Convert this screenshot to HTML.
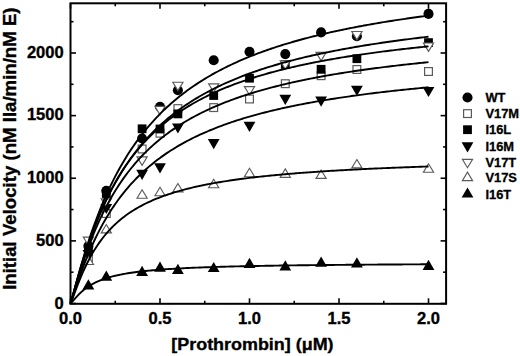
<!DOCTYPE html>
<html><head><meta charset="utf-8"><style>
html,body{margin:0;padding:0;background:#fff;}
svg{display:block;}
</style></head><body>
<svg width="520" height="356" viewBox="0 0 520 356">
<rect width="520" height="356" fill="#fff"/>
<circle cx="88.4" cy="246.0" r="5.05" fill="#000"/><circle cx="106.3" cy="190.7" r="5.05" fill="#000"/><circle cx="142.1" cy="138.5" r="5.05" fill="#000"/><circle cx="160.0" cy="106.7" r="5.05" fill="#000"/><circle cx="177.9" cy="90.3" r="5.05" fill="#000"/><circle cx="213.7" cy="60.3" r="5.05" fill="#000"/><circle cx="249.5" cy="51.7" r="5.05" fill="#000"/><circle cx="285.3" cy="54.1" r="5.05" fill="#000"/><circle cx="321.1" cy="32.4" r="5.05" fill="#000"/><circle cx="356.9" cy="36.2" r="5.05" fill="#000"/><circle cx="428.5" cy="13.9" r="5.05" fill="#000"/><rect x="84.5" y="254.1" width="7.8" height="7.8" fill="#fff" stroke="#5a5a5a" stroke-width="1.2"/><rect x="102.4" y="209.6" width="7.8" height="7.8" fill="#fff" stroke="#5a5a5a" stroke-width="1.2"/><rect x="138.2" y="145.1" width="7.8" height="7.8" fill="#fff" stroke="#5a5a5a" stroke-width="1.2"/><rect x="156.1" y="129.3" width="7.8" height="7.8" fill="#fff" stroke="#5a5a5a" stroke-width="1.2"/><rect x="174.0" y="104.7" width="7.8" height="7.8" fill="#fff" stroke="#5a5a5a" stroke-width="1.2"/><rect x="209.8" y="103.7" width="7.8" height="7.8" fill="#fff" stroke="#5a5a5a" stroke-width="1.2"/><rect x="245.6" y="95.1" width="7.8" height="7.8" fill="#fff" stroke="#5a5a5a" stroke-width="1.2"/><rect x="281.4" y="79.8" width="7.8" height="7.8" fill="#fff" stroke="#5a5a5a" stroke-width="1.2"/><rect x="317.2" y="71.8" width="7.8" height="7.8" fill="#fff" stroke="#5a5a5a" stroke-width="1.2"/><rect x="353.0" y="65.6" width="7.8" height="7.8" fill="#fff" stroke="#5a5a5a" stroke-width="1.2"/><rect x="424.6" y="67.6" width="7.8" height="7.8" fill="#fff" stroke="#5a5a5a" stroke-width="1.2"/><rect x="84.00" y="246.60" width="8.8" height="8.8" fill="#000"/><rect x="101.90" y="189.10" width="8.8" height="8.8" fill="#000"/><rect x="137.70" y="124.40" width="8.8" height="8.8" fill="#000"/><rect x="155.60" y="124.60" width="8.8" height="8.8" fill="#000"/><rect x="173.50" y="109.50" width="8.8" height="8.8" fill="#000"/><rect x="209.30" y="91.10" width="8.8" height="8.8" fill="#000"/><rect x="245.10" y="73.80" width="8.8" height="8.8" fill="#000"/><rect x="280.90" y="60.10" width="8.8" height="8.8" fill="#000"/><rect x="316.70" y="64.90" width="8.8" height="8.8" fill="#000"/><rect x="352.50" y="54.30" width="8.8" height="8.8" fill="#000"/><rect x="424.10" y="38.20" width="8.8" height="8.8" fill="#000"/><polygon points="82.50,249.90 94.30,249.90 88.40,260.10" fill="#000"/><polygon points="100.40,203.90 112.20,203.90 106.30,214.10" fill="#000"/><polygon points="136.20,169.70 148.00,169.70 142.10,179.90" fill="#000"/><polygon points="154.10,163.20 165.90,163.20 160.00,173.40" fill="#000"/><polygon points="172.00,123.40 183.80,123.40 177.90,133.60" fill="#000"/><polygon points="207.80,139.10 219.60,139.10 213.70,149.30" fill="#000"/><polygon points="243.60,121.70 255.40,121.70 249.50,131.90" fill="#000"/><polygon points="279.40,94.70 291.20,94.70 285.30,104.90" fill="#000"/><polygon points="315.20,96.60 327.00,96.60 321.10,106.80" fill="#000"/><polygon points="351.00,85.70 362.80,85.70 356.90,95.90" fill="#000"/><polygon points="422.60,86.90 434.40,86.90 428.50,97.10" fill="#000"/><polygon points="83.30,237.10 93.50,237.10 88.40,245.50" fill="#fff" stroke="#5a5a5a" stroke-width="1.15"/><polygon points="101.20,198.80 111.40,198.80 106.30,207.20" fill="#fff" stroke="#5a5a5a" stroke-width="1.15"/><polygon points="137.00,156.90 147.20,156.90 142.10,165.30" fill="#fff" stroke="#5a5a5a" stroke-width="1.15"/><polygon points="154.90,106.40 165.10,106.40 160.00,114.80" fill="#fff" stroke="#5a5a5a" stroke-width="1.15"/><polygon points="172.80,82.20 183.00,82.20 177.90,90.60" fill="#fff" stroke="#5a5a5a" stroke-width="1.15"/><polygon points="208.60,83.80 218.80,83.80 213.70,92.20" fill="#fff" stroke="#5a5a5a" stroke-width="1.15"/><polygon points="244.40,86.60 254.60,86.60 249.50,95.00" fill="#fff" stroke="#5a5a5a" stroke-width="1.15"/><polygon points="280.20,60.80 290.40,60.80 285.30,69.20" fill="#fff" stroke="#5a5a5a" stroke-width="1.15"/><polygon points="316.00,52.40 326.20,52.40 321.10,60.80" fill="#fff" stroke="#5a5a5a" stroke-width="1.15"/><polygon points="351.80,31.50 362.00,31.50 356.90,39.90" fill="#fff" stroke="#5a5a5a" stroke-width="1.15"/><polygon points="423.40,43.00 433.60,43.00 428.50,51.40" fill="#fff" stroke="#5a5a5a" stroke-width="1.15"/><polygon points="83.30,264.50 93.50,264.50 88.40,256.10" fill="#fff" stroke="#5a5a5a" stroke-width="1.15"/><polygon points="101.20,232.90 111.40,232.90 106.30,224.50" fill="#fff" stroke="#5a5a5a" stroke-width="1.15"/><polygon points="137.00,198.20 147.20,198.20 142.10,189.80" fill="#fff" stroke="#5a5a5a" stroke-width="1.15"/><polygon points="154.90,195.70 165.10,195.70 160.00,187.30" fill="#fff" stroke="#5a5a5a" stroke-width="1.15"/><polygon points="172.80,191.90 183.00,191.90 177.90,183.50" fill="#fff" stroke="#5a5a5a" stroke-width="1.15"/><polygon points="208.60,187.70 218.80,187.70 213.70,179.30" fill="#fff" stroke="#5a5a5a" stroke-width="1.15"/><polygon points="244.40,176.70 254.60,176.70 249.50,168.30" fill="#fff" stroke="#5a5a5a" stroke-width="1.15"/><polygon points="280.20,177.30 290.40,177.30 285.30,168.90" fill="#fff" stroke="#5a5a5a" stroke-width="1.15"/><polygon points="316.00,178.40 326.20,178.40 321.10,170.00" fill="#fff" stroke="#5a5a5a" stroke-width="1.15"/><polygon points="351.80,167.90 362.00,167.90 356.90,159.50" fill="#fff" stroke="#5a5a5a" stroke-width="1.15"/><polygon points="423.40,172.20 433.60,172.20 428.50,163.80" fill="#fff" stroke="#5a5a5a" stroke-width="1.15"/><polygon points="82.50,289.40 94.30,289.40 88.40,279.20" fill="#000"/><polygon points="100.40,280.80 112.20,280.80 106.30,270.60" fill="#000"/><polygon points="136.20,275.90 148.00,275.90 142.10,265.70" fill="#000"/><polygon points="154.10,271.70 165.90,271.70 160.00,261.50" fill="#000"/><polygon points="172.00,273.90 183.80,273.90 177.90,263.70" fill="#000"/><polygon points="207.80,272.10 219.60,272.10 213.70,261.90" fill="#000"/><polygon points="243.60,268.00 255.40,268.00 249.50,257.80" fill="#000"/><polygon points="279.40,270.50 291.20,270.50 285.30,260.30" fill="#000"/><polygon points="315.20,266.80 327.00,266.80 321.10,256.60" fill="#000"/><polygon points="351.00,267.40 362.80,267.40 356.90,257.20" fill="#000"/><polygon points="422.60,270.00 434.40,270.00 428.50,259.80" fill="#000"/>
<path d="M70.50,303.50 L72.29,297.36 L74.08,290.76 L75.87,284.14 L77.66,277.61 L79.45,271.22 L81.24,264.98 L83.03,258.91 L84.82,253.01 L86.61,247.29 L88.40,241.74 L90.19,236.37 L91.98,231.16 L93.77,226.11 L95.56,221.22 L97.35,216.48 L99.14,211.89 L100.93,207.44 L102.72,203.13 L104.51,198.96 L106.30,194.91 L108.09,190.98 L109.88,187.17 L111.67,183.47 L113.46,179.88 L115.25,176.39 L117.04,173.01 L118.83,169.72 L120.62,166.52 L122.41,163.42 L124.20,160.40 L125.99,157.46 L127.78,154.60 L129.57,151.82 L131.36,149.12 L133.15,146.48 L134.94,143.91 L136.73,141.41 L138.52,138.97 L140.31,136.60 L142.10,134.28 L143.89,132.02 L145.68,129.82 L147.47,127.67 L149.26,125.57 L151.05,123.52 L152.84,121.52 L154.63,119.56 L156.42,117.65 L158.21,115.79 L160.00,113.96 L161.79,112.18 L163.58,110.43 L165.37,108.73 L167.16,107.06 L168.95,105.43 L170.74,103.83 L172.53,102.26 L174.32,100.73 L176.11,99.23 L177.90,97.76 L179.69,96.33 L181.48,94.92 L183.27,93.53 L185.06,92.18 L186.85,90.85 L188.64,89.55 L190.43,88.27 L192.22,87.02 L194.01,85.79 L195.80,84.59 L197.59,83.40 L199.38,82.24 L201.17,81.10 L202.96,79.98 L204.75,78.88 L206.54,77.80 L208.33,76.74 L210.12,75.70 L211.91,74.68 L213.70,73.67 L215.49,72.69 L217.28,71.72 L219.07,70.76 L220.86,69.82 L222.65,68.90 L224.44,67.99 L226.23,67.10 L228.02,66.22 L229.81,65.36 L231.60,64.51 L233.39,63.67 L235.18,62.85 L236.97,62.03 L238.76,61.24 L240.55,60.45 L242.34,59.68 L244.13,58.92 L245.92,58.17 L247.71,57.43 L249.50,56.70 L251.29,55.98 L253.08,55.28 L254.87,54.58 L256.66,53.89 L258.45,53.22 L260.24,52.55 L262.03,51.90 L263.82,51.25 L265.61,50.61 L267.40,49.98 L269.19,49.36 L270.98,48.75 L272.77,48.14 L274.56,47.55 L276.35,46.96 L278.14,46.38 L279.93,45.81 L281.72,45.25 L283.51,44.69 L285.30,44.14 L287.09,43.60 L288.88,43.06 L290.67,42.54 L292.46,42.01 L294.25,41.50 L296.04,40.99 L297.83,40.49 L299.62,39.99 L301.41,39.50 L303.20,39.02 L304.99,38.54 L306.78,38.07 L308.57,37.61 L310.36,37.15 L312.15,36.69 L313.94,36.24 L315.73,35.80 L317.52,35.36 L319.31,34.93 L321.10,34.50 L322.89,34.07 L324.68,33.66 L326.47,33.24 L328.26,32.83 L330.05,32.43 L331.84,32.03 L333.63,31.63 L335.42,31.24 L337.21,30.86 L339.00,30.47 L340.79,30.10 L342.58,29.72 L344.37,29.35 L346.16,28.99 L347.95,28.63 L349.74,28.27 L351.53,27.91 L353.32,27.56 L355.11,27.22 L356.90,26.87 L358.69,26.54 L360.48,26.20 L362.27,25.87 L364.06,25.54 L365.85,25.21 L367.64,24.89 L369.43,24.57 L371.22,24.26 L373.01,23.94 L374.80,23.64 L376.59,23.33 L378.38,23.03 L380.17,22.73 L381.96,22.43 L383.75,22.13 L385.54,21.84 L387.33,21.55 L389.12,21.27 L390.91,20.99 L392.70,20.71 L394.49,20.43 L396.28,20.15 L398.07,19.88 L399.86,19.61 L401.65,19.34 L403.44,19.08 L405.23,18.82 L407.02,18.56 L408.81,18.30 L410.60,18.04 L412.39,17.79 L414.18,17.54 L415.97,17.29 L417.76,17.05 L419.55,16.80 L421.34,16.56 L423.13,16.32 L424.92,16.09 L426.71,15.85 L428.50,15.62" fill="none" stroke="#000" stroke-width="1.9"/><path d="M70.50,303.50 L72.29,297.69 L74.08,291.53 L75.87,285.41 L77.66,279.42 L79.45,273.59 L81.24,267.94 L83.03,262.47 L84.82,257.18 L86.61,252.08 L88.40,247.15 L90.19,242.40 L91.98,237.82 L93.77,233.39 L95.56,229.13 L97.35,225.01 L99.14,221.03 L100.93,217.19 L102.72,213.48 L104.51,209.90 L106.30,206.44 L108.09,203.09 L109.88,199.84 L111.67,196.71 L113.46,193.67 L115.25,190.73 L117.04,187.89 L118.83,185.13 L120.62,182.45 L122.41,179.85 L124.20,177.34 L125.99,174.89 L127.78,172.52 L129.57,170.21 L131.36,167.97 L133.15,165.80 L134.94,163.68 L136.73,161.62 L138.52,159.62 L140.31,157.67 L142.10,155.77 L143.89,153.93 L145.68,152.13 L147.47,150.37 L149.26,148.66 L151.05,147.00 L152.84,145.37 L154.63,143.79 L156.42,142.24 L158.21,140.73 L160.00,139.26 L161.79,137.82 L163.58,136.41 L165.37,135.04 L167.16,133.70 L168.95,132.38 L170.74,131.10 L172.53,129.85 L174.32,128.62 L176.11,127.42 L177.90,126.25 L179.69,125.10 L181.48,123.97 L183.27,122.87 L185.06,121.79 L186.85,120.73 L188.64,119.70 L190.43,118.68 L192.22,117.69 L194.01,116.71 L195.80,115.76 L197.59,114.82 L199.38,113.90 L201.17,113.00 L202.96,112.11 L204.75,111.25 L206.54,110.39 L208.33,109.56 L210.12,108.74 L211.91,107.93 L213.70,107.14 L215.49,106.36 L217.28,105.60 L219.07,104.84 L220.86,104.11 L222.65,103.38 L224.44,102.67 L226.23,101.97 L228.02,101.28 L229.81,100.60 L231.60,99.94 L233.39,99.28 L235.18,98.64 L236.97,98.00 L238.76,97.38 L240.55,96.76 L242.34,96.16 L244.13,95.57 L245.92,94.98 L247.71,94.40 L249.50,93.84 L251.29,93.28 L253.08,92.73 L254.87,92.18 L256.66,91.65 L258.45,91.12 L260.24,90.61 L262.03,90.10 L263.82,89.59 L265.61,89.10 L267.40,88.61 L269.19,88.13 L270.98,87.65 L272.77,87.18 L274.56,86.72 L276.35,86.26 L278.14,85.82 L279.93,85.37 L281.72,84.94 L283.51,84.50 L285.30,84.08 L287.09,83.66 L288.88,83.25 L290.67,82.84 L292.46,82.43 L294.25,82.04 L296.04,81.64 L297.83,81.25 L299.62,80.87 L301.41,80.49 L303.20,80.12 L304.99,79.75 L306.78,79.39 L308.57,79.03 L310.36,78.67 L312.15,78.32 L313.94,77.98 L315.73,77.63 L317.52,77.30 L319.31,76.96 L321.10,76.63 L322.89,76.31 L324.68,75.98 L326.47,75.67 L328.26,75.35 L330.05,75.04 L331.84,74.73 L333.63,74.43 L335.42,74.13 L337.21,73.83 L339.00,73.54 L340.79,73.25 L342.58,72.96 L344.37,72.68 L346.16,72.40 L347.95,72.12 L349.74,71.84 L351.53,71.57 L353.32,71.30 L355.11,71.04 L356.90,70.77 L358.69,70.51 L360.48,70.26 L362.27,70.00 L364.06,69.75 L365.85,69.50 L367.64,69.25 L369.43,69.01 L371.22,68.77 L373.01,68.53 L374.80,68.29 L376.59,68.06 L378.38,67.82 L380.17,67.59 L381.96,67.37 L383.75,67.14 L385.54,66.92 L387.33,66.70 L389.12,66.48 L390.91,66.26 L392.70,66.05 L394.49,65.84 L396.28,65.63 L398.07,65.42 L399.86,65.21 L401.65,65.01 L403.44,64.81 L405.23,64.61 L407.02,64.41 L408.81,64.21 L410.60,64.02 L412.39,63.82 L414.18,63.63 L415.97,63.44 L417.76,63.25 L419.55,63.07 L421.34,62.88 L423.13,62.70 L424.92,62.52 L426.71,62.34 L428.50,62.16" fill="none" stroke="#000" stroke-width="1.9"/><path d="M70.50,303.50 L72.29,297.50 L74.08,291.10 L75.87,284.71 L77.66,278.42 L79.45,272.28 L81.24,266.31 L83.03,260.51 L84.82,254.89 L86.61,249.44 L88.40,244.17 L90.19,239.08 L91.98,234.15 L93.77,229.39 L95.56,224.78 L97.35,220.32 L99.14,216.00 L100.93,211.83 L102.72,207.79 L104.51,203.88 L106.30,200.10 L108.09,196.43 L109.88,192.87 L111.67,189.43 L113.46,186.09 L115.25,182.85 L117.04,179.71 L118.83,176.66 L120.62,173.70 L122.41,170.82 L124.20,168.03 L125.99,165.32 L127.78,162.68 L129.57,160.11 L131.36,157.62 L133.15,155.19 L134.94,152.83 L136.73,150.52 L138.52,148.28 L140.31,146.10 L142.10,143.97 L143.89,141.90 L145.68,139.88 L147.47,137.91 L149.26,135.99 L151.05,134.11 L152.84,132.28 L154.63,130.49 L156.42,128.75 L158.21,127.04 L160.00,125.38 L161.79,123.75 L163.58,122.16 L165.37,120.60 L167.16,119.08 L168.95,117.60 L170.74,116.14 L172.53,114.72 L174.32,113.33 L176.11,111.96 L177.90,110.63 L179.69,109.32 L181.48,108.04 L183.27,106.78 L185.06,105.55 L186.85,104.35 L188.64,103.17 L190.43,102.01 L192.22,100.88 L194.01,99.76 L195.80,98.67 L197.59,97.60 L199.38,96.55 L201.17,95.52 L202.96,94.50 L204.75,93.51 L206.54,92.53 L208.33,91.58 L210.12,90.63 L211.91,89.71 L213.70,88.80 L215.49,87.91 L217.28,87.03 L219.07,86.17 L220.86,85.32 L222.65,84.49 L224.44,83.67 L226.23,82.87 L228.02,82.07 L229.81,81.29 L231.60,80.53 L233.39,79.77 L235.18,79.03 L236.97,78.30 L238.76,77.58 L240.55,76.88 L242.34,76.18 L244.13,75.49 L245.92,74.82 L247.71,74.15 L249.50,73.50 L251.29,72.85 L253.08,72.22 L254.87,71.59 L256.66,70.98 L258.45,70.37 L260.24,69.77 L262.03,69.18 L263.82,68.60 L265.61,68.02 L267.40,67.46 L269.19,66.90 L270.98,66.35 L272.77,65.81 L274.56,65.28 L276.35,64.75 L278.14,64.23 L279.93,63.71 L281.72,63.21 L283.51,62.71 L285.30,62.22 L287.09,61.73 L288.88,61.25 L290.67,60.78 L292.46,60.31 L294.25,59.85 L296.04,59.39 L297.83,58.94 L299.62,58.50 L301.41,58.06 L303.20,57.63 L304.99,57.20 L306.78,56.78 L308.57,56.36 L310.36,55.95 L312.15,55.54 L313.94,55.14 L315.73,54.74 L317.52,54.35 L319.31,53.96 L321.10,53.58 L322.89,53.20 L324.68,52.82 L326.47,52.45 L328.26,52.09 L330.05,51.72 L331.84,51.37 L333.63,51.01 L335.42,50.66 L337.21,50.32 L339.00,49.98 L340.79,49.64 L342.58,49.30 L344.37,48.97 L346.16,48.65 L347.95,48.32 L349.74,48.00 L351.53,47.69 L353.32,47.37 L355.11,47.06 L356.90,46.76 L358.69,46.45 L360.48,46.15 L362.27,45.86 L364.06,45.56 L365.85,45.27 L367.64,44.98 L369.43,44.70 L371.22,44.42 L373.01,44.14 L374.80,43.86 L376.59,43.59 L378.38,43.32 L380.17,43.05 L381.96,42.79 L383.75,42.52 L385.54,42.26 L387.33,42.00 L389.12,41.75 L390.91,41.50 L392.70,41.25 L394.49,41.00 L396.28,40.75 L398.07,40.51 L399.86,40.27 L401.65,40.03 L403.44,39.80 L405.23,39.56 L407.02,39.33 L408.81,39.10 L410.60,38.87 L412.39,38.65 L414.18,38.42 L415.97,38.20 L417.76,37.98 L419.55,37.76 L421.34,37.55 L423.13,37.34 L424.92,37.12 L426.71,36.91 L428.50,36.71" fill="none" stroke="#000" stroke-width="1.9"/><path d="M70.50,303.50 L72.29,298.30 L74.08,292.86 L75.87,287.47 L77.66,282.20 L79.45,277.07 L81.24,272.11 L83.03,267.30 L84.82,262.66 L86.61,258.17 L88.40,253.84 L90.19,249.66 L91.98,245.63 L93.77,241.73 L95.56,237.97 L97.35,234.34 L99.14,230.83 L100.93,227.44 L102.72,224.16 L104.51,221.00 L106.30,217.93 L108.09,214.96 L109.88,212.09 L111.67,209.31 L113.46,206.61 L115.25,204.00 L117.04,201.47 L118.83,199.02 L120.62,196.63 L122.41,194.32 L124.20,192.08 L125.99,189.90 L127.78,187.78 L129.57,185.72 L131.36,183.72 L133.15,181.77 L134.94,179.88 L136.73,178.03 L138.52,176.24 L140.31,174.49 L142.10,172.79 L143.89,171.13 L145.68,169.52 L147.47,167.94 L149.26,166.40 L151.05,164.91 L152.84,163.44 L154.63,162.02 L156.42,160.62 L158.21,159.26 L160.00,157.93 L161.79,156.63 L163.58,155.36 L165.37,154.12 L167.16,152.91 L168.95,151.72 L170.74,150.56 L172.53,149.43 L174.32,148.32 L176.11,147.23 L177.90,146.17 L179.69,145.13 L181.48,144.11 L183.27,143.11 L185.06,142.13 L186.85,141.17 L188.64,140.23 L190.43,139.30 L192.22,138.40 L194.01,137.51 L195.80,136.64 L197.59,135.79 L199.38,134.95 L201.17,134.13 L202.96,133.33 L204.75,132.54 L206.54,131.76 L208.33,131.00 L210.12,130.25 L211.91,129.51 L213.70,128.79 L215.49,128.08 L217.28,127.38 L219.07,126.69 L220.86,126.02 L222.65,125.36 L224.44,124.70 L226.23,124.06 L228.02,123.43 L229.81,122.81 L231.60,122.20 L233.39,121.60 L235.18,121.01 L236.97,120.43 L238.76,119.86 L240.55,119.30 L242.34,118.74 L244.13,118.20 L245.92,117.66 L247.71,117.13 L249.50,116.61 L251.29,116.10 L253.08,115.59 L254.87,115.09 L256.66,114.60 L258.45,114.12 L260.24,113.64 L262.03,113.17 L263.82,112.71 L265.61,112.26 L267.40,111.81 L269.19,111.36 L270.98,110.92 L272.77,110.49 L274.56,110.07 L276.35,109.65 L278.14,109.23 L279.93,108.83 L281.72,108.42 L283.51,108.03 L285.30,107.63 L287.09,107.25 L288.88,106.86 L290.67,106.49 L292.46,106.12 L294.25,105.75 L296.04,105.39 L297.83,105.03 L299.62,104.67 L301.41,104.32 L303.20,103.98 L304.99,103.64 L306.78,103.30 L308.57,102.97 L310.36,102.64 L312.15,102.32 L313.94,102.00 L315.73,101.68 L317.52,101.37 L319.31,101.06 L321.10,100.76 L322.89,100.45 L324.68,100.15 L326.47,99.86 L328.26,99.57 L330.05,99.28 L331.84,99.00 L333.63,98.71 L335.42,98.44 L337.21,98.16 L339.00,97.89 L340.79,97.62 L342.58,97.35 L344.37,97.09 L346.16,96.83 L347.95,96.57 L349.74,96.32 L351.53,96.06 L353.32,95.81 L355.11,95.57 L356.90,95.32 L358.69,95.08 L360.48,94.84 L362.27,94.61 L364.06,94.37 L365.85,94.14 L367.64,93.91 L369.43,93.68 L371.22,93.46 L373.01,93.24 L374.80,93.02 L376.59,92.80 L378.38,92.58 L380.17,92.37 L381.96,92.16 L383.75,91.95 L385.54,91.74 L387.33,91.54 L389.12,91.33 L390.91,91.13 L392.70,90.93 L394.49,90.73 L396.28,90.54 L398.07,90.35 L399.86,90.15 L401.65,89.96 L403.44,89.77 L405.23,89.59 L407.02,89.40 L408.81,89.22 L410.60,89.04 L412.39,88.86 L414.18,88.68 L415.97,88.50 L417.76,88.33 L419.55,88.15 L421.34,87.98 L423.13,87.81 L424.92,87.64 L426.71,87.48 L428.50,87.31" fill="none" stroke="#000" stroke-width="1.9"/><path d="M70.50,303.50 L72.29,297.66 L74.08,291.25 L75.87,284.81 L77.66,278.44 L79.45,272.21 L81.24,266.14 L83.03,260.25 L84.82,254.55 L86.61,249.03 L88.40,243.69 L90.19,238.54 L91.98,233.57 L93.77,228.76 L95.56,224.13 L97.35,219.65 L99.14,215.33 L100.93,211.15 L102.72,207.12 L104.51,203.23 L106.30,199.46 L108.09,195.82 L109.88,192.30 L111.67,188.90 L113.46,185.61 L115.25,182.42 L117.04,179.33 L118.83,176.34 L120.62,173.44 L122.41,170.63 L124.20,167.91 L125.99,165.26 L127.78,162.70 L129.57,160.21 L131.36,157.79 L133.15,155.45 L134.94,153.17 L136.73,150.95 L138.52,148.79 L140.31,146.70 L142.10,144.66 L143.89,142.67 L145.68,140.74 L147.47,138.86 L149.26,137.02 L151.05,135.24 L152.84,133.49 L154.63,131.80 L156.42,130.14 L158.21,128.53 L160.00,126.95 L161.79,125.42 L163.58,123.92 L165.37,122.45 L167.16,121.02 L168.95,119.62 L170.74,118.26 L172.53,116.92 L174.32,115.62 L176.11,114.34 L177.90,113.09 L179.69,111.87 L181.48,110.68 L183.27,109.51 L185.06,108.37 L186.85,107.25 L188.64,106.15 L190.43,105.08 L192.22,104.02 L194.01,102.99 L195.80,101.98 L197.59,100.99 L199.38,100.02 L201.17,99.07 L202.96,98.14 L204.75,97.22 L206.54,96.32 L208.33,95.44 L210.12,94.58 L211.91,93.73 L213.70,92.90 L215.49,92.08 L217.28,91.28 L219.07,90.49 L220.86,89.71 L222.65,88.95 L224.44,88.21 L226.23,87.47 L228.02,86.75 L229.81,86.04 L231.60,85.34 L233.39,84.66 L235.18,83.98 L236.97,83.32 L238.76,82.67 L240.55,82.03 L242.34,81.40 L244.13,80.78 L245.92,80.16 L247.71,79.56 L249.50,78.97 L251.29,78.39 L253.08,77.82 L254.87,77.25 L256.66,76.70 L258.45,76.15 L260.24,75.61 L262.03,75.08 L263.82,74.56 L265.61,74.04 L267.40,73.53 L269.19,73.03 L270.98,72.54 L272.77,72.05 L274.56,71.57 L276.35,71.10 L278.14,70.64 L279.93,70.18 L281.72,69.72 L283.51,69.28 L285.30,68.84 L287.09,68.40 L288.88,67.97 L290.67,67.55 L292.46,67.14 L294.25,66.72 L296.04,66.32 L297.83,65.92 L299.62,65.52 L301.41,65.13 L303.20,64.75 L304.99,64.37 L306.78,63.99 L308.57,63.62 L310.36,63.26 L312.15,62.89 L313.94,62.54 L315.73,62.19 L317.52,61.84 L319.31,61.49 L321.10,61.15 L322.89,60.82 L324.68,60.49 L326.47,60.16 L328.26,59.84 L330.05,59.52 L331.84,59.20 L333.63,58.89 L335.42,58.58 L337.21,58.28 L339.00,57.98 L340.79,57.68 L342.58,57.38 L344.37,57.09 L346.16,56.80 L347.95,56.52 L349.74,56.24 L351.53,55.96 L353.32,55.69 L355.11,55.41 L356.90,55.14 L358.69,54.88 L360.48,54.61 L362.27,54.35 L364.06,54.10 L365.85,53.84 L367.64,53.59 L369.43,53.34 L371.22,53.09 L373.01,52.85 L374.80,52.61 L376.59,52.37 L378.38,52.13 L380.17,51.90 L381.96,51.66 L383.75,51.43 L385.54,51.21 L387.33,50.98 L389.12,50.76 L390.91,50.54 L392.70,50.32 L394.49,50.11 L396.28,49.89 L398.07,49.68 L399.86,49.47 L401.65,49.26 L403.44,49.06 L405.23,48.85 L407.02,48.65 L408.81,48.45 L410.60,48.25 L412.39,48.06 L414.18,47.86 L415.97,47.67 L417.76,47.48 L419.55,47.29 L421.34,47.10 L423.13,46.92 L424.92,46.73 L426.71,46.55 L428.50,46.37" fill="none" stroke="#000" stroke-width="1.9"/><path d="M70.50,303.50 L72.29,299.22 L74.08,294.42 L75.87,289.61 L77.66,284.91 L79.45,280.38 L81.24,276.05 L83.03,271.92 L84.82,267.99 L86.61,264.25 L88.40,260.70 L90.19,257.33 L91.98,254.13 L93.77,251.09 L95.56,248.21 L97.35,245.47 L99.14,242.86 L100.93,240.38 L102.72,238.01 L104.51,235.76 L106.30,233.61 L108.09,231.56 L109.88,229.61 L111.67,227.74 L113.46,225.95 L115.25,224.23 L117.04,222.59 L118.83,221.02 L120.62,219.51 L122.41,218.07 L124.20,216.68 L125.99,215.34 L127.78,214.06 L129.57,212.82 L131.36,211.63 L133.15,210.49 L134.94,209.38 L136.73,208.32 L138.52,207.29 L140.31,206.30 L142.10,205.34 L143.89,204.42 L145.68,203.52 L147.47,202.66 L149.26,201.82 L151.05,201.01 L152.84,200.22 L154.63,199.46 L156.42,198.72 L158.21,198.01 L160.00,197.31 L161.79,196.64 L163.58,195.98 L165.37,195.35 L167.16,194.73 L168.95,194.13 L170.74,193.54 L172.53,192.98 L174.32,192.42 L176.11,191.88 L177.90,191.36 L179.69,190.85 L181.48,190.35 L183.27,189.87 L185.06,189.40 L186.85,188.94 L188.64,188.49 L190.43,188.05 L192.22,187.62 L194.01,187.20 L195.80,186.80 L197.59,186.40 L199.38,186.01 L201.17,185.63 L202.96,185.26 L204.75,184.89 L206.54,184.54 L208.33,184.19 L210.12,183.85 L211.91,183.52 L213.70,183.19 L215.49,182.88 L217.28,182.56 L219.07,182.26 L220.86,181.96 L222.65,181.67 L224.44,181.38 L226.23,181.10 L228.02,180.82 L229.81,180.55 L231.60,180.29 L233.39,180.03 L235.18,179.77 L236.97,179.52 L238.76,179.28 L240.55,179.03 L242.34,178.80 L244.13,178.57 L245.92,178.34 L247.71,178.11 L249.50,177.89 L251.29,177.68 L253.08,177.47 L254.87,177.26 L256.66,177.05 L258.45,176.85 L260.24,176.65 L262.03,176.46 L263.82,176.27 L265.61,176.08 L267.40,175.90 L269.19,175.71 L270.98,175.53 L272.77,175.36 L274.56,175.18 L276.35,175.01 L278.14,174.85 L279.93,174.68 L281.72,174.52 L283.51,174.36 L285.30,174.20 L287.09,174.05 L288.88,173.89 L290.67,173.74 L292.46,173.59 L294.25,173.45 L296.04,173.30 L297.83,173.16 L299.62,173.02 L301.41,172.88 L303.20,172.75 L304.99,172.62 L306.78,172.48 L308.57,172.35 L310.36,172.22 L312.15,172.10 L313.94,171.97 L315.73,171.85 L317.52,171.73 L319.31,171.61 L321.10,171.49 L322.89,171.38 L324.68,171.26 L326.47,171.15 L328.26,171.03 L330.05,170.92 L331.84,170.82 L333.63,170.71 L335.42,170.60 L337.21,170.50 L339.00,170.39 L340.79,170.29 L342.58,170.19 L344.37,170.09 L346.16,169.99 L347.95,169.89 L349.74,169.80 L351.53,169.70 L353.32,169.61 L355.11,169.52 L356.90,169.43 L358.69,169.33 L360.48,169.25 L362.27,169.16 L364.06,169.07 L365.85,168.98 L367.64,168.90 L369.43,168.81 L371.22,168.73 L373.01,168.65 L374.80,168.57 L376.59,168.49 L378.38,168.41 L380.17,168.33 L381.96,168.25 L383.75,168.17 L385.54,168.10 L387.33,168.02 L389.12,167.95 L390.91,167.87 L392.70,167.80 L394.49,167.73 L396.28,167.66 L398.07,167.59 L399.86,167.52 L401.65,167.45 L403.44,167.38 L405.23,167.31 L407.02,167.25 L408.81,167.18 L410.60,167.11 L412.39,167.05 L414.18,166.98 L415.97,166.92 L417.76,166.86 L419.55,166.80 L421.34,166.73 L423.13,166.67 L424.92,166.61 L426.71,166.55 L428.50,166.49" fill="none" stroke="#000" stroke-width="1.9"/><path d="M70.50,303.50 L72.29,301.71 L74.08,299.62 L75.87,297.57 L77.66,295.61 L79.45,293.78 L81.24,292.08 L83.03,290.51 L84.82,289.06 L86.61,287.73 L88.40,286.50 L90.19,285.36 L91.98,284.31 L93.77,283.34 L95.56,282.44 L97.35,281.61 L99.14,280.83 L100.93,280.11 L102.72,279.43 L104.51,278.80 L106.30,278.21 L108.09,277.66 L109.88,277.14 L111.67,276.65 L113.46,276.19 L115.25,275.75 L117.04,275.34 L118.83,274.95 L120.62,274.59 L122.41,274.24 L124.20,273.91 L125.99,273.59 L127.78,273.29 L129.57,273.01 L131.36,272.74 L133.15,272.48 L134.94,272.23 L136.73,272.00 L138.52,271.77 L140.31,271.56 L142.10,271.35 L143.89,271.15 L145.68,270.96 L147.47,270.78 L149.26,270.60 L151.05,270.44 L152.84,270.27 L154.63,270.12 L156.42,269.97 L158.21,269.82 L160.00,269.68 L161.79,269.55 L163.58,269.42 L165.37,269.29 L167.16,269.17 L168.95,269.05 L170.74,268.94 L172.53,268.83 L174.32,268.72 L176.11,268.62 L177.90,268.52 L179.69,268.42 L181.48,268.33 L183.27,268.24 L185.06,268.15 L186.85,268.06 L188.64,267.98 L190.43,267.90 L192.22,267.82 L194.01,267.74 L195.80,267.67 L197.59,267.59 L199.38,267.52 L201.17,267.45 L202.96,267.39 L204.75,267.32 L206.54,267.26 L208.33,267.20 L210.12,267.13 L211.91,267.08 L213.70,267.02 L215.49,266.96 L217.28,266.91 L219.07,266.85 L220.86,266.80 L222.65,266.75 L224.44,266.70 L226.23,266.65 L228.02,266.60 L229.81,266.56 L231.60,266.51 L233.39,266.47 L235.18,266.42 L236.97,266.38 L238.76,266.34 L240.55,266.30 L242.34,266.26 L244.13,266.22 L245.92,266.18 L247.71,266.14 L249.50,266.10 L251.29,266.07 L253.08,266.03 L254.87,266.00 L256.66,265.96 L258.45,265.93 L260.24,265.89 L262.03,265.86 L263.82,265.83 L265.61,265.80 L267.40,265.77 L269.19,265.74 L270.98,265.71 L272.77,265.68 L274.56,265.65 L276.35,265.62 L278.14,265.60 L279.93,265.57 L281.72,265.54 L283.51,265.52 L285.30,265.49 L287.09,265.47 L288.88,265.44 L290.67,265.42 L292.46,265.39 L294.25,265.37 L296.04,265.35 L297.83,265.32 L299.62,265.30 L301.41,265.28 L303.20,265.26 L304.99,265.23 L306.78,265.21 L308.57,265.19 L310.36,265.17 L312.15,265.15 L313.94,265.13 L315.73,265.11 L317.52,265.09 L319.31,265.07 L321.10,265.06 L322.89,265.04 L324.68,265.02 L326.47,265.00 L328.26,264.98 L330.05,264.97 L331.84,264.95 L333.63,264.93 L335.42,264.92 L337.21,264.90 L339.00,264.88 L340.79,264.87 L342.58,264.85 L344.37,264.84 L346.16,264.82 L347.95,264.80 L349.74,264.79 L351.53,264.77 L353.32,264.76 L355.11,264.75 L356.90,264.73 L358.69,264.72 L360.48,264.70 L362.27,264.69 L364.06,264.68 L365.85,264.66 L367.64,264.65 L369.43,264.64 L371.22,264.62 L373.01,264.61 L374.80,264.60 L376.59,264.59 L378.38,264.57 L380.17,264.56 L381.96,264.55 L383.75,264.54 L385.54,264.53 L387.33,264.52 L389.12,264.50 L390.91,264.49 L392.70,264.48 L394.49,264.47 L396.28,264.46 L398.07,264.45 L399.86,264.44 L401.65,264.43 L403.44,264.42 L405.23,264.41 L407.02,264.40 L408.81,264.39 L410.60,264.38 L412.39,264.37 L414.18,264.36 L415.97,264.35 L417.76,264.34 L419.55,264.33 L421.34,264.32 L423.13,264.31 L424.92,264.30 L426.71,264.29 L428.50,264.29" fill="none" stroke="#000" stroke-width="1.9"/>
<rect x="70.5" y="3.3" width="375.6" height="300.5" fill="none" stroke="#000" stroke-width="2"/><line x1="70.50" y1="303.8" x2="70.50" y2="298.3" stroke="#000" stroke-width="1.6"/><line x1="70.50" y1="3.3" x2="70.50" y2="8.8" stroke="#000" stroke-width="1.6"/><line x1="115.25" y1="303.8" x2="115.25" y2="300.8" stroke="#000" stroke-width="1.6"/><line x1="115.25" y1="3.3" x2="115.25" y2="6.3" stroke="#000" stroke-width="1.6"/><line x1="160.00" y1="303.8" x2="160.00" y2="298.3" stroke="#000" stroke-width="1.6"/><line x1="160.00" y1="3.3" x2="160.00" y2="8.8" stroke="#000" stroke-width="1.6"/><line x1="204.75" y1="303.8" x2="204.75" y2="300.8" stroke="#000" stroke-width="1.6"/><line x1="204.75" y1="3.3" x2="204.75" y2="6.3" stroke="#000" stroke-width="1.6"/><line x1="249.50" y1="303.8" x2="249.50" y2="298.3" stroke="#000" stroke-width="1.6"/><line x1="249.50" y1="3.3" x2="249.50" y2="8.8" stroke="#000" stroke-width="1.6"/><line x1="294.25" y1="303.8" x2="294.25" y2="300.8" stroke="#000" stroke-width="1.6"/><line x1="294.25" y1="3.3" x2="294.25" y2="6.3" stroke="#000" stroke-width="1.6"/><line x1="339.00" y1="303.8" x2="339.00" y2="298.3" stroke="#000" stroke-width="1.6"/><line x1="339.00" y1="3.3" x2="339.00" y2="8.8" stroke="#000" stroke-width="1.6"/><line x1="383.75" y1="303.8" x2="383.75" y2="300.8" stroke="#000" stroke-width="1.6"/><line x1="383.75" y1="3.3" x2="383.75" y2="6.3" stroke="#000" stroke-width="1.6"/><line x1="428.50" y1="303.8" x2="428.50" y2="298.3" stroke="#000" stroke-width="1.6"/><line x1="428.50" y1="3.3" x2="428.50" y2="8.8" stroke="#000" stroke-width="1.6"/><line x1="70.5" y1="303.50" x2="76.0" y2="303.50" stroke="#000" stroke-width="1.6"/><line x1="446.1" y1="303.50" x2="440.6" y2="303.50" stroke="#000" stroke-width="1.6"/><line x1="70.5" y1="272.19" x2="73.5" y2="272.19" stroke="#000" stroke-width="1.6"/><line x1="446.1" y1="272.19" x2="443.1" y2="272.19" stroke="#000" stroke-width="1.6"/><line x1="70.5" y1="240.88" x2="76.0" y2="240.88" stroke="#000" stroke-width="1.6"/><line x1="446.1" y1="240.88" x2="440.6" y2="240.88" stroke="#000" stroke-width="1.6"/><line x1="70.5" y1="209.56" x2="73.5" y2="209.56" stroke="#000" stroke-width="1.6"/><line x1="446.1" y1="209.56" x2="443.1" y2="209.56" stroke="#000" stroke-width="1.6"/><line x1="70.5" y1="178.25" x2="76.0" y2="178.25" stroke="#000" stroke-width="1.6"/><line x1="446.1" y1="178.25" x2="440.6" y2="178.25" stroke="#000" stroke-width="1.6"/><line x1="70.5" y1="146.94" x2="73.5" y2="146.94" stroke="#000" stroke-width="1.6"/><line x1="446.1" y1="146.94" x2="443.1" y2="146.94" stroke="#000" stroke-width="1.6"/><line x1="70.5" y1="115.62" x2="76.0" y2="115.62" stroke="#000" stroke-width="1.6"/><line x1="446.1" y1="115.62" x2="440.6" y2="115.62" stroke="#000" stroke-width="1.6"/><line x1="70.5" y1="84.31" x2="73.5" y2="84.31" stroke="#000" stroke-width="1.6"/><line x1="446.1" y1="84.31" x2="443.1" y2="84.31" stroke="#000" stroke-width="1.6"/><line x1="70.5" y1="53.00" x2="76.0" y2="53.00" stroke="#000" stroke-width="1.6"/><line x1="446.1" y1="53.00" x2="440.6" y2="53.00" stroke="#000" stroke-width="1.6"/><line x1="70.5" y1="21.69" x2="73.5" y2="21.69" stroke="#000" stroke-width="1.6"/><line x1="446.1" y1="21.69" x2="443.1" y2="21.69" stroke="#000" stroke-width="1.6"/>
<g font-family="'Liberation Sans', sans-serif" font-weight="bold" fill="#000" stroke="#000" stroke-width="0.35">
<text x="63.6" y="309" text-anchor="end" font-size="16.5">0</text><text x="63.6" y="246" text-anchor="end" font-size="16.5">500</text><text x="63.6" y="183" text-anchor="end" font-size="16.5">1000</text><text x="63.6" y="120" text-anchor="end" font-size="16.5">1500</text><text x="63.6" y="58" text-anchor="end" font-size="16.5">2000</text><text x="70.50" y="324" text-anchor="middle" font-size="16.5">0.0</text><text x="160.00" y="324" text-anchor="middle" font-size="16.5">0.5</text><text x="249.50" y="324" text-anchor="middle" font-size="16.5">1.0</text><text x="339.00" y="324" text-anchor="middle" font-size="16.5">1.5</text><text x="428.50" y="324" text-anchor="middle" font-size="16.5">2.0</text><text x="171.29" y="349.6" font-size="17" textLength="162.30" lengthAdjust="spacingAndGlyphs">[Prothrombin] (&#956;M)</text>
<text transform="translate(15.5,289.84) rotate(-90)" font-size="18" textLength="282.36" lengthAdjust="spacingAndGlyphs">Initial Velocity (nM IIa/min/nM E)</text>
</g>
<circle cx="467.5" cy="97.5" r="5.05" fill="#000"/><rect x="463.6" y="109.7" width="7.8" height="7.8" fill="#fff" stroke="#5a5a5a" stroke-width="1.2"/><rect x="463.10" y="125.30" width="8.8" height="8.8" fill="#000"/><polygon points="461.60,142.30 473.40,142.30 467.50,152.50" fill="#000"/><polygon points="462.40,159.30 472.60,159.30 467.50,167.70" fill="#fff" stroke="#5a5a5a" stroke-width="1.15"/><polygon points="462.40,180.60 472.60,180.60 467.50,172.20" fill="#fff" stroke="#5a5a5a" stroke-width="1.15"/><polygon points="461.60,197.60 473.40,197.60 467.50,187.40" fill="#000"/>
<g font-family="'Liberation Sans', sans-serif" font-weight="bold" fill="#000" stroke="#000" stroke-width="0.3">
<text x="485.4" y="102" font-size="12.9">WT</text><text x="485.4" y="118" font-size="12.9">V17M</text><text x="485.4" y="134" font-size="12.9">I16L</text><text x="485.4" y="151" font-size="12.9">I16M</text><text x="485.4" y="167" font-size="12.9">V17T</text><text x="485.4" y="182" font-size="12.9">V17S</text><text x="485.4" y="199" font-size="12.9">I16T</text>
</g>

</svg></body></html>
